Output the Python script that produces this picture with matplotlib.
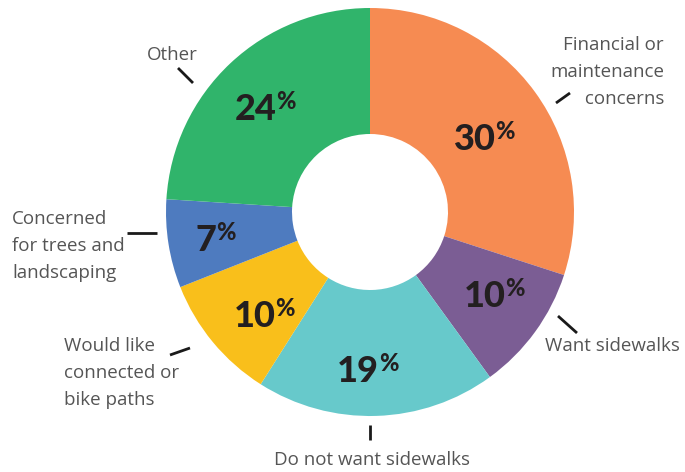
import numpy as np
import matplotlib.pyplot as plt

categories = ["Financial or\nmaintenance\n concerns", "Want sidewalks", "Do not want sidewalks",
              "Would like\nconnected or\nbike paths", "Concerned\nfor trees and\nlandscaping", "Other"]
values = [30, 10, 19, 10, 7, 24]
colors = ["#F68B52", "#7B5D94", "#67C9CB", "#F9BF1B", "#4E7BBF", "#30B46B"]

W, H = 685, 472
cx, cy = 370, H - 212
R, r_in = 204, 78

fig = plt.figure(figsize=(W / 100, H / 100), dpi=100)
ax = fig.add_axes([0, 0, 1, 1])

wedges, _ = ax.pie(values, colors=colors, startangle=90, counterclock=False,
                   center=(cx, cy), radius=R, wedgeprops=dict(width=R - r_in, linewidth=0),
                   frame=True)
ax.set_xlim(0, W)
ax.set_ylim(0, H)
ax.set_aspect("equal")
ax.axis("off")

fig.canvas.draw()
renderer = fig.canvas.get_renderer()

# percentage labels in the ring (nudges in pixels, y downward)
nudges = [(1, 8), (11, 1), (-7, 18), (2, 14), (-16, 5), (-9, -2)]
mid_r = 140
pfont = dict(family="Lato", fontweight="black", color="#231F20")
for w, v, (dx, dy) in zip(wedges, values, nudges):
    ang = np.deg2rad((w.theta1 + w.theta2) / 2)
    x = cx + mid_r * np.cos(ang) + dx
    y = cy + mid_r * np.sin(ang) - dy
    num = ax.text(0, 0, str(v), ha="left", va="baseline", fontsize=26, **pfont)
    pct = ax.text(0, 0, "%", ha="left", va="baseline", fontsize=17, **pfont)
    wn = num.get_window_extent(renderer).width
    wp = pct.get_window_extent(renderer).width
    x0 = x - (wn + wp) / 2
    num.set_position((x0, y - 12))
    pct.set_position((x0 + wn, y - 1))

# outside labels and leader ticks (pixel coordinates, y from top)
def py(y):
    return H - y

txt = dict(fontsize=13.5, family="Open Sans", color="#555555", linespacing=1.62)
ax.text(664, py(72), categories[0], ha="right", va="center", **txt)
ax.text(545, py(346), categories[1], ha="left", va="center", **txt)
ax.text(372, py(460), categories[2], ha="center", va="center", **txt)
ax.text(64, py(373), categories[3], ha="left", va="center", **txt)
ax.text(12, py(246), categories[4], ha="left", va="center", **txt)
ax.text(172, py(55), categories[5], ha="center", va="center", **txt)

ticks = [((556, 103), (570, 93)), ((558, 316), (577, 333)), ((370, 425), (370, 440)),
         ((170, 355), (190, 348)), ((127, 233), (157, 233)), ((178, 68), (193, 83))]
for (x0, y0), (x1, y1) in ticks:
    ax.plot([x0, x1], [py(y0), py(y1)], color="#1A1A1A", lw=2, solid_capstyle="butt")

fig.savefig("out.png", dpi=100)
